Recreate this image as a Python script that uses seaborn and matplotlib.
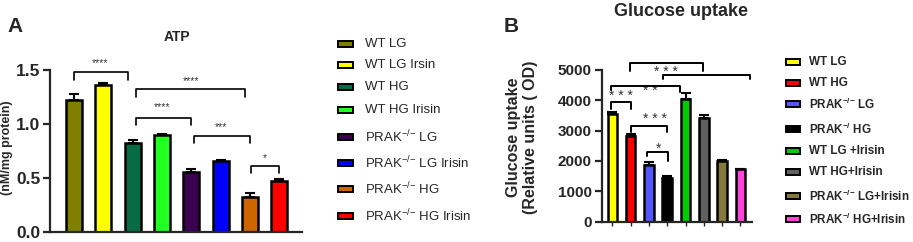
import numpy as np
import matplotlib
matplotlib.use('Agg')
import matplotlib.pyplot as plt
from matplotlib.patches import Rectangle
import seaborn as sns

# ---- data ----
atp_groups = ['WT LG', 'WT LG Irsin', 'WT HG', 'WT HG Irisin',
              'PRAK$^{{-}/{-}}$ LG', 'PRAK$^{{-}/{-}}$ LG Irisin', 'PRAK$^{{-}/{-}}$ HG',
              'PRAK$^{{-}/{-}}$ HG Irisin']
atp_mean = [1.22, 1.36, 0.82, 0.90, 0.56, 0.66, 0.32, 0.47]
atp_err = [0.06, 0.02, 0.03, 0.01, 0.025, 0.01, 0.045, 0.02]
atp_colors = ['#808000', '#ffff00', '#076b45', '#22ff22', '#3c0050', '#0000ff', '#cc6600', '#ff0000']

glu_groups = ['WT LG', 'WT HG', 'PRAK$^{{-}/{-}}$ LG', 'PRAK$^{{-}/}$ HG', 'WT LG +Irisin',
              'WT HG+Irisin', 'PRAK$^{{-}/{-}}$ LG+Irisin', 'PRAK$^{{-}/}$ HG+Irisin']
glu_mean = [3530, 2820, 1870, 1430, 4020, 3420, 1990, 1720]
glu_err = [70, 60, 90, 60, 210, 80, 30, 30]
glu_colors = ['#ffff00', '#ff0000', '#5555ff', '#000000', '#00cc00', '#606060', '#857a3c', '#ff44dd']

# significance brackets: (x left, x right, top, left drop, right drop, label, label x, label y)
atp_sig = [(0.0, 1.83, 1.48, 1.41, 1.41, '****', 0.9, 1.56),
           (2.1, 5.84, 1.32, 1.25, 1.25, '****', 4.0, 1.40),
           (2.1, 3.97, 1.06, 0.99, 0.99, '****', 3.0, 1.16),
           (4.09, 5.99, 0.89, 0.82, 0.82, '***', 5.0, 0.97),
           (6.03, 7.0, 0.61, 0.55, 0.55, '*', 6.5, 0.68)]
glu_sig = [(0.95, 4.94, 5210, 4960, 4960, '* * *', 2.93, 4930),
           (2.79, 7.52, 4830, 4690, 4690, '', 0, 0),
           (-0.07, 3.7, 4470, 4330, 4270, '* *', 2.06, 4300),
           (-0.07, 1.02, 3930, 3710, 3710, '* * *', 0.48, 4120),
           (1.02, 3.0, 3160, 2960, 2940, '* * *', 2.33, 3370),
           (1.91, 3.06, 2300, 2170, 2000, '*', 2.55, 2410)]

sns.set_style('ticks')
plt.rcParams['font.family'] = ['Liberation Sans', 'DejaVu Sans']
plt.rcParams['mathtext.fontset'] = 'custom'
plt.rcParams['mathtext.rm'] = 'Liberation Sans'
plt.rcParams['mathtext.bf'] = 'Liberation Sans:bold'

W, H = 913, 242
fig = plt.figure(figsize=(W / 100, H / 100), dpi=100)


def fx(px):
    return px / W


def fy(py):
    return 1 - py / H


def draw_panel(ax, groups, means, errs, colors, width, sig, star_size, lw_star):
    sns.barplot(x=list(range(len(groups))), y=means, hue=list(range(len(groups))),
                palette=colors, legend=False, width=width, edgecolor='black',
                linewidth=1.8, saturation=1, ax=ax, zorder=2)
    ax.errorbar(range(len(groups)), means, yerr=[np.zeros(len(errs)), errs], fmt='none',
                ecolor='black', elinewidth=1.5, capsize=3.5, capthick=1.5, zorder=3)
    for x1, x2, top, d1, d2, lab, lx, ly in sig:
        ax.plot([x1, x1, x2, x2], [d1, top, top, d2], color='black', lw=lw_star,
                clip_on=False, zorder=4)
        if lab:
            ax.text(lx, ly, lab, ha='center', va='center', fontsize=star_size,
                    color='#333333', clip_on=False)
    sns.despine(ax=ax)
    for s in ['left', 'bottom']:
        ax.spines[s].set_linewidth(1.6)
    ax.set_xlabel('')


# ---- panel A ----
axA = fig.add_axes([fx(50), fy(232), fx(302 - 50), (232 - 70) / H])
draw_panel(axA, atp_groups, atp_mean, atp_err, atp_colors, 0.55, atp_sig, 7.5, 1.2)
axA.set_xlim(-0.82, 7.77)
axA.set_ylim(0, 1.5)
axA.set_yticks([0, 0.5, 1.0, 1.5])
axA.set_yticklabels(['0.0', '0.5', '1.0', '1.5'], fontsize=12.5, fontweight='bold')
axA.set_xticks([])
axA.tick_params(axis='y', width=1.6, length=5, pad=2)
fig.text(fx(7.5), fy(148), '(nM/mg protein)', rotation=90, ha='center', va='center',
         fontsize=9, fontweight='bold')
fig.text(fx(177), fy(37), 'ATP', ha='center', va='center', fontsize=10, fontweight='bold')
fig.text(fx(15), fy(26), 'A', ha='center', va='center', fontsize=15, fontweight='bold')

# ---- panel B ----
axB = fig.add_axes([fx(601.7), fy(221.7), fx(752 - 601.7), (221.7 - 69.7) / H])
draw_panel(axB, glu_groups, glu_mean, glu_err, glu_colors, 0.52, glu_sig, 10, 1.4)
axB.set_xlim(-0.58, 7.63)
axB.set_ylim(0, 5000)
axB.set_yticks([0, 1000, 2000, 3000, 4000, 5000])
axB.set_yticklabels(['0', '1000', '2000', '3000', '4000', '5000'], fontsize=11, fontweight='bold')
axB.set_xticks(range(len(glu_groups)))
axB.set_xticklabels([])
axB.tick_params(axis='y', width=1.6, length=5, pad=2)
axB.tick_params(axis='x', width=1.0, length=3)
fig.text(fx(522), fy(137), 'Glucose uptake\n(Relative units ( OD)', rotation=90,
         ha='center', va='center', fontsize=11.5, fontweight='bold', linespacing=1.1)
fig.text(fx(681), fy(11), 'Glucose uptake', ha='center', va='center', fontsize=13,
         fontweight='bold')
fig.text(fx(511), fy(27), 'B', ha='center', va='center', fontsize=15, fontweight='bold')

# ---- legends ----
legA_rows = [44, 65, 87, 110, 137, 163, 189, 216]
for lab, col, yy in zip(atp_groups, atp_colors, legA_rows):
    fig.add_artist(Rectangle((fx(338), fy(yy + 3)), fx(15), 6 / H, facecolor=col,
                             edgecolor='black', lw=1.4, transform=fig.transFigure))
    fig.text(fx(365), fy(yy), lab, ha='left', va='center', fontsize=9.5)

legB_rows = [62, 83, 104, 129, 151, 172, 196, 219]
for lab, col, yy in zip(glu_groups, glu_colors, legB_rows):
    fig.add_artist(Rectangle((fx(786), fy(yy + 3)), fx(14), 6 / H, facecolor=col,
                             edgecolor='black', lw=1.4, transform=fig.transFigure))
    lab_b = lab.replace('$^{', '$^{\\mathbf{').replace('}$', '}}$')
    fig.text(fx(809), fy(yy), lab_b, ha='left', va='center', fontsize=8.4, fontweight='bold')

fig.savefig('out.png', dpi=100)
